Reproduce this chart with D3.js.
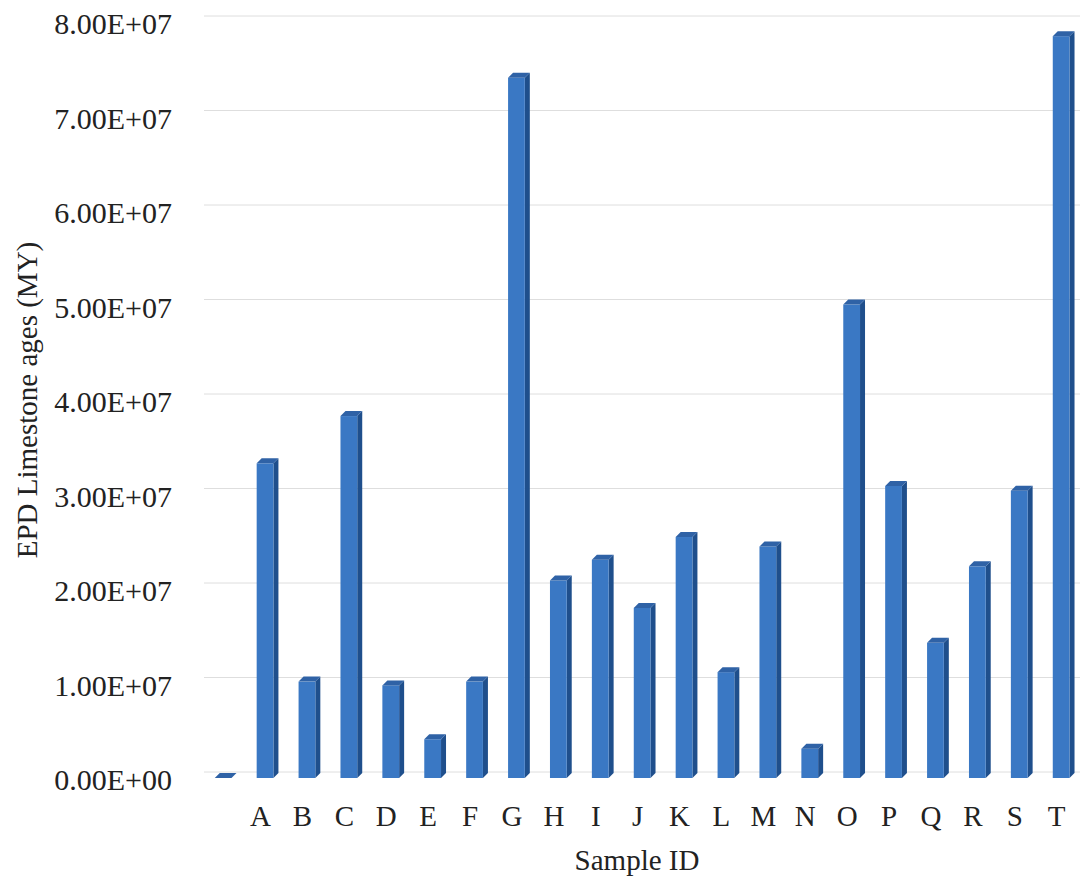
<!DOCTYPE html>
<html>
<head>
<meta charset="utf-8">
<script src="https://cdn.jsdelivr.net/npm/d3@7"></script>
<style>
  body { margin: 0; background: #fff; }
  text { font-family: "Liberation Serif", "Times New Roman", serif; fill: #222; }
</style>
</head>
<body>
<div id="chart"></div>
<script>
const categories = ["", "A", "B", "C", "D", "E", "F", "G", "H", "I", "J", "K", "L", "M", "N", "O", "P", "Q", "R", "S", "T"];
const ages = [0, 3.33e7, 1.02e7, 3.83e7, 0.98e7, 0.41e7, 1.02e7, 7.41e7, 2.09e7, 2.31e7, 1.80e7, 2.55e7, 1.12e7, 2.45e7, 0.31e7, 5.01e7, 3.09e7, 1.43e7, 2.24e7, 3.04e7, 7.85e7];
const yTicks = [0, 1e7, 2e7, 3e7, 4e7, 5e7, 6e7, 7e7, 8e7];

const width = 1084;
const height = 880;
const depthX = 5;
const depthY = 5;

const frontColor = "#3a78c4";
const sideColor = "#1f4f8c";
const topColor = "#2f62a6";

const fmt = d => d === 0 ? "0.00E+00" : (d / 1e7).toFixed(2) + "E+07";

const svg = d3.select("#chart")
  .append("svg")
  .attr("width", width)
  .attr("height", height);

const x = d3.scaleBand()
  .domain(categories.map((d, i) => i))
  .range([197.7, 1077.6]);

const y = d3.scaleLinear()
  .domain([0, 8e7])
  .range([778, 22]);

// back wall gridlines
svg.append("g")
  .selectAll("line")
  .data(yTicks)
  .enter()
  .append("line")
  .attr("x1", 204)
  .attr("x2", 1080)
  .attr("y1", d => y(d) - 6)
  .attr("y2", d => y(d) - 6)
  .attr("stroke", "#dedede")
  .attr("stroke-width", 1);

// y axis labels
const yAxis = d3.axisLeft(y)
  .tickValues(yTicks)
  .tickSize(0)
  .tickPadding(0)
  .tickFormat(fmt);

svg.append("g")
  .attr("transform", "translate(172, 2)")
  .call(yAxis)
  .call(g => g.select(".domain").remove())
  .selectAll("text")
  .style("font-family", "'Liberation Serif', 'Times New Roman', serif")
  .style("font-size", "30px")
  .attr("fill", "#222");

// x axis labels
const xAxis = d3.axisBottom(x)
  .tickSize(0)
  .tickPadding(0)
  .tickFormat(i => categories[i]);

svg.append("g")
  .attr("transform", "translate(0, 805)")
  .call(xAxis)
  .call(g => g.select(".domain").remove())
  .selectAll("text")
  .style("font-family", "'Liberation Serif', 'Times New Roman', serif")
  .style("font-size", "29px")
  .attr("fill", "#222");

// 3D bars
const barW = x.bandwidth() * 0.4;
const bars = svg.append("g")
  .selectAll("g")
  .data(ages)
  .enter()
  .append("g")
  .attr("transform", (d, i) => `translate(${x(i) + x.bandwidth() / 2 + 4.5 - barW / 2}, 0)`);

bars.append("path")
  .attr("d", d => {
    const t = y(d), b = y(0);
    return `M${barW},${t} L${barW + depthX},${t - depthY} L${barW + depthX},${b - depthY} L${barW},${b} Z`;
  })
  .attr("fill", sideColor);

bars.append("rect")
  .attr("x", 0)
  .attr("y", d => y(d))
  .attr("width", barW)
  .attr("height", d => y(0) - y(d))
  .attr("fill", frontColor);

bars.append("path")
  .attr("d", d => {
    const t = y(d);
    return `M0,${t} L${depthX},${t - depthY} L${barW + depthX},${t - depthY} L${barW},${t} Z`;
  })
  .attr("fill", topColor);

// axis titles
svg.append("text")
  .attr("x", 637)
  .attr("y", 870)
  .attr("text-anchor", "middle")
  .style("font-size", "29px")
  .text("Sample ID");

svg.append("text")
  .attr("transform", "translate(37, 400) rotate(-90)")
  .attr("text-anchor", "middle")
  .style("font-size", "29px")
  .text("EPD Limestone ages (MY)");
</script>
</body>
</html>
